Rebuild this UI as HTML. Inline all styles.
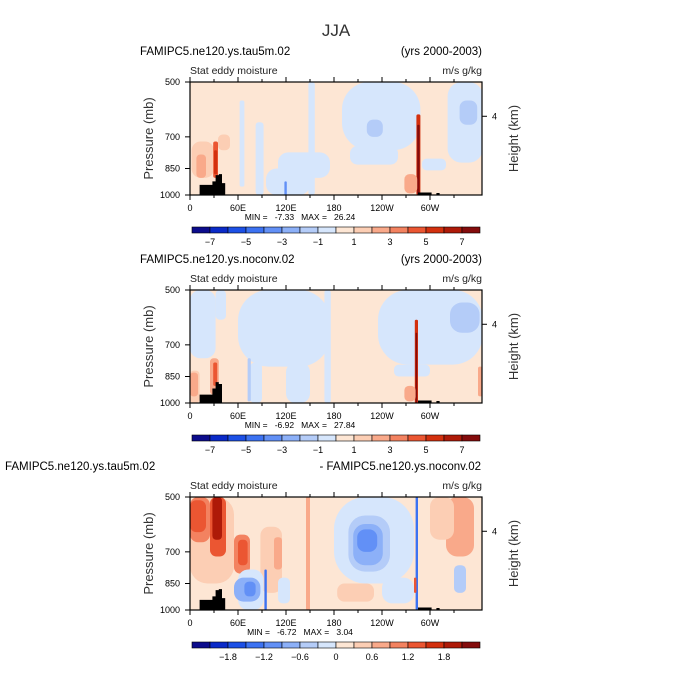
<!DOCTYPE html>
<html><head><meta charset="utf-8"><style>
body{margin:0;background:#fff;}
svg{display:block;font-family:"Liberation Sans",sans-serif;}
</style></head><body>
<svg id="fig" width="673" height="673" viewBox="0 0 673 673">
<text x="336" y="36" text-anchor="middle" font-size="17" fill="#333">JJA</text>
</svg>
<script>
const levelColors=["#0c0c8c","#0a2ac8","#1c50e6","#3c72f2","#6290f6","#8cb0f8","#b4ccf8","#d6e6fc","#fde6d4","#fcceb4","#f9a98a","#f38260","#eb5632","#d3300e","#ae1a08","#840c0c"];
const cbLabels1=["-7","-5","-3","-1","1","3","5","7"];
const cbLabelPos1=[1,3,5,7,9,11,13,15];
const cbLabels3=["-1.8","-1.2","-0.6","0","0.6","1.2","1.8"];
const cbLabelPos3=[2,4,6,8,10,12,14];
const lonTicks=[0,60,120,180,240,300];
const lonLabels=["0","60E","120E","180","120W","60W"];
const presTicks=[500,700,850,1000];
const titles=["FAMIPC5.ne120.ys.tau5m.02","FAMIPC5.ne120.ys.noconv.02"];
const minVals=["-7.33","-6.92","-6.72"];
const maxVals=["26.24","27.84","3.04"];
// regions: [lon1, lon2, pTop, pBottom, level]
const field1=[
 [190,288,500,760,7],[200,260,740,830,7],[322,366,500,820,7],[148,156,500,1000,7],
 [110,175,770,900,7],[82,92,640,1000,7],[62,68,560,950,7],[95,150,850,1000,7],
 [221,241,630,700,6],[337,359,560,650,6],[290,320,800,860,7],
 [2,30,720,900,9],[8,20,780,900,10],[35,50,690,760,9],
 [29,35,720,900,12],[30,34,760,880,13],[283,288,610,1000,13],[284,287,650,1000,15],[268,284,880,990,10],[118,121,920,1000,4]];
const field2=[
 [0,32,500,760,7],[32,45,500,600,7],[60,175,500,800,7],[75,90,780,1000,7],[120,150,780,1000,7],[168,176,500,1000,7],
 [235,366,500,790,7],[255,300,790,850,7],[325,362,540,650,6],[72,76,760,990,6],[0,12,820,1000,9],
 [0,10,830,960,10],[25,36,760,950,10],[29,34,780,900,12],[281,285,600,1000,13],[282,284,650,1000,15],[268,282,900,990,10],[360,366,800,960,10]];
const field3=[
 [0,55,500,850,9],[0,25,500,660,11],[0,20,510,620,12],[25,45,500,720,12],[28,40,500,650,14],
 [55,75,630,800,11],[60,72,650,760,12],[88,115,600,900,9],[105,115,640,780,10],[145,150,500,1000,10],
 [60,92,780,1000,7],[55,88,820,950,5],[68,82,840,920,4],[93,96,780,1000,3],[110,125,820,960,7],
 [180,280,500,850,7],[240,280,820,960,7],[198,250,560,790,6],[204,241,590,760,5],[209,234,610,700,4],
 [184,230,850,950,9],[282,285,500,1000,3],[280,283,820,900,12],[320,355,500,720,10],[330,345,760,900,6],[300,330,500,650,9]];
const topo1=[[12,940],[20,940],[28,920],[32,885],[36,880],[40,930],[44,1000]];
const topo2=[[12,950],[20,950],[28,915],[32,880],[36,890],[40,1000]];
const topoAndes=[[285,985],[298,985],[302,1000],[308,988],[312,1000]];
const fields=[field1,field2,field3];
const topos=[topo1,topo2,topo1];
const svg=document.getElementById('fig');
const NS="http://www.w3.org/2000/svg";
const PX=190,PW=292,PH=113,PY0=82;
function mk(tag,attrs,parent){const e=document.createElementNS(NS,tag);for(const k in attrs)e.setAttribute(k,attrs[k]);(parent||svg).appendChild(e);return e;}
function xOf(lon){return PX+lon*0.8;}
function yOf(p,oy){return oy+(Math.log(p)-Math.log(500))/(Math.log(1000)-Math.log(500))*PH;}
for(let k=0;k<3;k++){
 const oy=PY0+[0,208,415][k];
 const g=mk('g',{});
 
 
 const cp=mk('clipPath',{id:'c'+k},g);mk('rect',{x:PX,y:oy,width:PW,height:PH},cp);
 const fg=mk('g',{'clip-path':'url(#c'+k+')'},g);
 const bg=mk('rect',{x:PX,y:oy,width:PW,height:PH,fill:levelColors[8]},fg);
 
 
 fields[k].forEach(b=>{
  const x1=xOf(b[0]),x2=xOf(b[1]),y1=yOf(b[2],oy),y2=yOf(b[3],oy);
  const w=x2-x1,h=y2-y1,r=Math.min(w,h)*0.4;
  const el=mk('rect',{x:x1,y:y1,width:w,height:h,rx:r,ry:r,fill:levelColors[b[4]]},fg);
  
  
 });
 [topos[k],topoAndes].forEach(t=>{
  let d='';
  for(let i=0;i<t.length-1;i++){d+='M'+xOf(t[i][0])+','+yOf(t[i][1],oy)+'H'+xOf(t[i+1][0])+'V'+(oy+PH)+'H'+xOf(t[i][0])+'Z';}
  const tp=mk('path',{d:d,fill:'#000'},fg);
  
  
 });
 mk('rect',{x:PX,y:oy,width:PW,height:PH,fill:'none',stroke:'#000','stroke-width':1.2},g);
 lonTicks.forEach((l,i)=>{
  mk('line',{x1:xOf(l),x2:xOf(l),y1:oy+PH,y2:oy+PH+5,stroke:'#000'},g);
  mk('line',{x1:xOf(l),x2:xOf(l),y1:oy,y2:oy-5,stroke:'#000'},g);
  const t=mk('text',{x:xOf(l),y:oy+PH+16,'text-anchor':'middle','font-size':9},g);t.textContent=lonLabels[i];
  
 });
 [30,90,150,210,270,330].forEach(l=>{mk('line',{x1:xOf(l),x2:xOf(l),y1:oy+PH,y2:oy+PH+3,stroke:'#000'},g);mk('line',{x1:xOf(l),x2:xOf(l),y1:oy,y2:oy-3,stroke:'#000'},g);});
 presTicks.forEach(p=>{
  mk('line',{x1:PX-5,x2:PX,y1:yOf(p,oy),y2:yOf(p,oy),stroke:'#000'},g);
  const t=mk('text',{x:PX-10,y:yOf(p,oy)+3,'text-anchor':'end','font-size':9},g);t.textContent=p;
  
 });
 const yh=yOf(617,oy);
 mk('line',{x1:PX+PW,x2:PX+PW+5,y1:yh,y2:yh,stroke:'#000'},g);
 let t=mk('text',{x:PX+PW+10,y:yh+3,'font-size':9},g);t.textContent='4';
 t=mk('text',{transform:'translate(153,'+(oy+PH/2)+') rotate(-90)','text-anchor':'middle','font-size':13,fill:'#333'},g);t.textContent='Pressure (mb)';
 
 t=mk('text',{transform:'translate(518,'+(oy+PH/2)+') rotate(-90)','text-anchor':'middle','font-size':13,fill:'#333'},g);t.textContent='Height (km)';
 
 t=mk('text',{x:PX,y:oy-8,'font-size':10.5,fill:'#222'},g);t.textContent='Stat eddy moisture';
 t=mk('text',{x:PX+PW,y:oy-8,'font-size':10.5,'text-anchor':'end',fill:'#222'},g);t.textContent='m/s g/kg';
 if(k<2){
  t=mk('text',{x:140,y:oy-27,'font-size':11.5},g);t.textContent=titles[k];
  
  t=mk('text',{x:482,y:oy-27,'font-size':11.5,'text-anchor':'end'},g);t.textContent='(yrs 2000-2003)';
 } else {
  t=mk('text',{x:5,y:oy-27,'font-size':11.5},g);t.textContent=titles[0];
  
  t=mk('text',{x:481,y:oy-27,'font-size':11.5,'text-anchor':'end'},g);t.textContent='- '+titles[1];
 }
 t=mk('text',{x:300,y:oy+PH+25,'font-size':8.5,'text-anchor':'middle',style:'white-space:pre'},g);
 t.textContent='MIN =   '+minVals[k]+'   MAX =   '+maxVals[k];
 const cy=oy+145;
 const cb=mk('g',{},g);
 
 levelColors.forEach((c,i)=>{mk('rect',{x:192+i*18,y:cy,width:18,height:6,fill:c,stroke:'#000','stroke-width':0.6},cb);});
 const labs=k<2?cbLabels1:cbLabels3, pos=k<2?cbLabelPos1:cbLabelPos3;
 labs.forEach((l,i)=>{const tt=mk('text',{x:192+pos[i]*18,y:cy+18,'font-size':9,'text-anchor':'middle'},cb);tt.textContent=l.replace('-','\u2212');});
}
</script>
</body></html>
